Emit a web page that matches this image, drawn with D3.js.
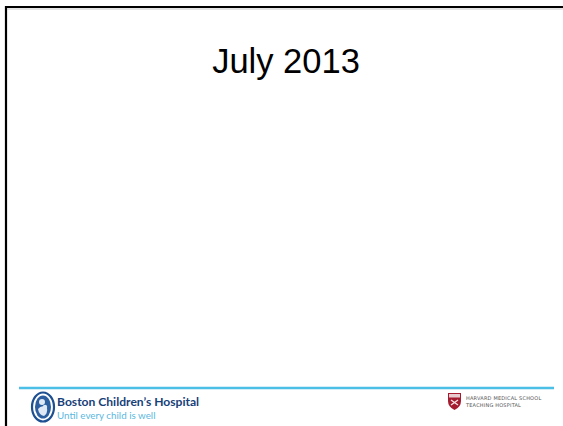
<!DOCTYPE html>
<html>
<head>
<meta charset="utf-8">
<script src="https://cdn.jsdelivr.net/npm/d3@7"></script>
<style>
  body { margin: 0; background: #fff; }
  svg { display: block; }
</style>
</head>
<body>
<div class="chart"></div>
<script>
(function() {
    var width = 563;
    var height = 426;

    // slide content
    var titleText = ["July 2013"];
    var hospitalLines = ["Boston Children\u2019s Hospital", "Until every child is well"];
    var harvardLines = ["HARVARD MEDICAL SCHOOL", "TEACHING HOSPITAL"];

    var svg = d3.select(".chart")
                .append("svg")
                .attr("width", width)
                .attr("height", height);

    // frame: top and left edges only
    svg.append("path")
        .attr("d", "M6,426 V7 H563")
        .attr("fill", "none")
        .attr("stroke", "#000")
        .attr("stroke-width", 2.2);
    svg.append("line")
        .attr("x1", 7).attr("x2", 563)
        .attr("y1", 9).attr("y2", 9)
        .attr("stroke", "#bbb")
        .attr("stroke-width", 0.8);

    svg.selectAll(".title")
        .data(titleText)
        .enter().append("text")
        .attr("class", "title")
        .attr("x", 286)
        .attr("y", 73)
        .attr("text-anchor", "middle")
        .attr("font-family", "Liberation Sans, Arial, sans-serif")
        .attr("font-size", 34.5)
        .attr("fill", "#000")
        .text(function(d) { return d; });

    // footer rule
    svg.append("line")
        .attr("x1", 19).attr("x2", 554)
        .attr("y1", 388).attr("y2", 388)
        .attr("stroke", "#4cbfe6")
        .attr("stroke-width", 2.4);

    // Boston Children's logo mark
    var mark = svg.append("g").attr("transform", "translate(43,407)");
    mark.append("ellipse")
        .attr("rx", 11).attr("ry", 14.5)
        .attr("fill", "#fff")
        .attr("stroke", "#1d4f91")
        .attr("stroke-width", 2.2);
    mark.append("ellipse")
        .attr("rx", 8).attr("ry", 11.5)
        .attr("fill", "#2d5fa0");
    mark.append("circle")
        .attr("cx", -1).attr("cy", -5).attr("r", 3)
        .attr("fill", "#dfe8f4");
    mark.append("path")
        .attr("d", "M-5,2 Q-1,-3 4,1 Q5,6 1,9 Q-4,8 -5,2 Z")
        .attr("fill", "#dfe8f4");
    mark.append("circle")
        .attr("cx", 2).attr("cy", 0).attr("r", 2.2)
        .attr("fill", "#dfe8f4");

    svg.selectAll(".hosp")
        .data(hospitalLines)
        .enter().append("text")
        .attr("class", "hosp")
        .attr("x", 57)
        .attr("y", function(d, i) { return i === 0 ? 406 : 419; })
        .attr("font-family", "Lato, sans-serif")
        .attr("font-size", function(d, i) { return i === 0 ? 12.1 : 9.8; })
        .attr("font-weight", function(d, i) { return i === 0 ? "bold" : "normal"; })
        .attr("fill", function(d, i) { return i === 0 ? "#173f79" : "#5ab8e0"; })
        .text(function(d) { return d; });

    // Harvard shield
    var shield = svg.append("g").attr("transform", "translate(448,393)");
    shield.append("path")
        .attr("d", "M0,0 H13 V8 Q13,14 6.5,17 Q0,14 0,8 Z")
        .attr("fill", "#a51c30");
    shield.append("rect")
        .attr("x", 1).attr("y", 1).attr("width", 11).attr("height", 3.5)
        .attr("fill", "#e8c9cd");
    shield.append("path")
        .attr("d", "M3,7 L10,12 M10,7 L3,12")
        .attr("stroke", "#f2e2e4")
        .attr("stroke-width", 1.4);

    svg.selectAll(".hms")
        .data(harvardLines)
        .enter().append("text")
        .attr("class", "hms")
        .attr("x", 466)
        .attr("y", function(d, i) { return 400 + i * 6.5; })
        .attr("font-family", "DejaVu Sans, sans-serif")
        .attr("font-size", 5)
        .attr("letter-spacing", 0.2)
        .attr("fill", "#555")
        .text(function(d) { return d; });
})();
</script>
</body>
</html>
